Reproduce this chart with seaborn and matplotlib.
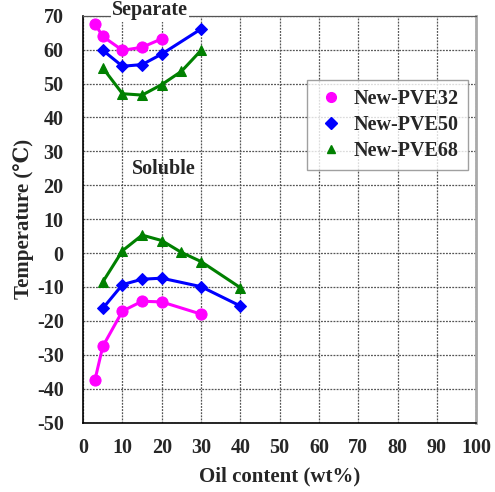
import pandas as pd
import matplotlib
matplotlib.use('Agg')
import matplotlib.pyplot as plt
import seaborn as sns
from matplotlib.ticker import MultipleLocator

sns.set_style('white')
plt.rcParams['font.family'] = ['Liberation Serif', 'DejaVu Serif']
plt.rcParams['font.weight'] = 'bold'
plt.rcParams['axes.unicode_minus'] = False

# ---- data ----
series_names = ['New-PVE32', 'New-PVE50', 'New-PVE68']
colors = ['#ff00ff', '#0000ff', '#008000']
markers = ['o', 'D', '^']

# separation (upper) curves
sep_x_32 = [3, 5, 10, 15, 20]
sep_y_32 = [67.6, 63.9, 59.8, 60.7, 63.2]
sep_x_50 = [5, 10, 15, 20, 30]
sep_y_50 = [59.8, 55.1, 55.6, 58.7, 66.1]
sep_x_68 = [5, 10, 15, 20, 25, 30]
sep_y_68 = [54.6, 47.0, 46.6, 49.7, 53.6, 59.8]

# soluble (lower) curves
sol_x_32 = [3, 5, 10, 15, 20, 30]
sol_y_32 = [-37.4, -27.5, -17.1, -14.2, -14.4, -18.0]
sol_x_50 = [5, 10, 15, 20, 30, 40]
sol_y_50 = [-16.3, -9.3, -7.7, -7.4, -9.9, -15.6]
sol_x_68 = [5, 10, 15, 20, 25, 30, 40]
sol_y_68 = [-8.5, 0.7, 5.3, 3.7, 0.2, -2.5, -10.2]

curves = [
    (series_names[0], 'sep', sep_x_32, sep_y_32),
    (series_names[1], 'sep', sep_x_50, sep_y_50),
    (series_names[2], 'sep', sep_x_68, sep_y_68),
    (series_names[0], 'sol', sol_x_32, sol_y_32),
    (series_names[1], 'sol', sol_x_50, sol_y_50),
    (series_names[2], 'sol', sol_x_68, sol_y_68),
]
rows = []
for name, branch, xs, ys in curves:
    for x, y in zip(xs, ys):
        rows.append({'series': name, 'branch': branch, 'oil': x, 'temp': y})
df = pd.DataFrame(rows)

fig = plt.figure(figsize=(4.95, 4.92), dpi=100)
ax = fig.add_axes([0.168, 0.141, 0.794, 0.827])

palette = dict(zip(series_names, colors))
marker_map = dict(zip(series_names, markers))
msize = {'New-PVE32': 8, 'New-PVE50': 6.5, 'New-PVE68': 6.5}

for name in series_names:
    for branch in ['sep', 'sol']:
        sub = df[(df['series'] == name) & (df['branch'] == branch)]
        sns.lineplot(data=sub, x='oil', y='temp', ax=ax, color=palette[name],
                     marker=marker_map[name], markersize=msize[name],
                     markeredgecolor=palette[name], linewidth=2.2,
                     sort=False, legend=False, zorder=3)

# legend with markers only
handles = [plt.Line2D([], [], linestyle='none', marker=m, color=c,
                      markersize=6 if m != 'o' else 7)
           for m, c in zip(markers, colors)]
leg = ax.legend(handles, series_names, loc='upper left',
                bbox_to_anchor=(0.57, 0.842), borderaxespad=0,
                frameon=True, fancybox=False,
                edgecolor='#888888', handletextpad=0.35, handlelength=1.5,
                borderpad=0.45, labelspacing=0.3,
                prop={'weight': 'bold', 'size': 14.5})
leg.get_frame().set_linewidth(1.0)
leg.set_zorder(5)

ax.set_xlim(0, 100)
ax.set_ylim(-50, 70)
ax.xaxis.set_major_locator(MultipleLocator(10))
ax.yaxis.set_major_locator(MultipleLocator(10))
ax.xaxis.set_minor_locator(MultipleLocator(1))
ax.yaxis.set_minor_locator(MultipleLocator(1))
ax.tick_params(which='both', direction='in', top=False, right=False)
ax.tick_params(which='major', length=5, width=1, labelsize=14.5)
ax.tick_params(axis='x', which='major', pad=11)
ax.tick_params(axis='y', which='major', pad=14)
ax.tick_params(which='minor', length=3, width=0.8)
for lbl in ax.get_xticklabels() + ax.get_yticklabels():
    lbl.set_fontweight('bold')

ax.grid(True, which='major', linestyle=(0, (1.5, 1)), color='#555555', linewidth=0.9)
ax.set_axisbelow(True)

ax.spines['left'].set_color('black')
ax.spines['bottom'].set_color('black')
ax.spines['left'].set_linewidth(1.2)
ax.spines['bottom'].set_linewidth(1.2)
ax.spines['top'].set_color('#555555')
ax.spines['top'].set_linewidth(0.9)
ax.spines['right'].set_color('#aaaaaa')
ax.spines['right'].set_linewidth(2.0)

ax.set_xlabel('Oil content (wt%)', fontsize=15, fontweight='bold', labelpad=6)
ax.set_ylabel('Temperature (℃)', fontsize=15, fontweight='bold', labelpad=2)

ax.text(17, 71.6, 'Separate', ha='center', va='center', fontsize=14.5,
        fontweight='bold', zorder=6, clip_on=False,
        bbox=dict(facecolor='white', edgecolor='none', pad=1))
ax.text(20.6, 24.7, 'Soluble', ha='center', va='center', fontsize=14.5,
        fontweight='bold', zorder=6)

fig.savefig('out.png', dpi=100)
